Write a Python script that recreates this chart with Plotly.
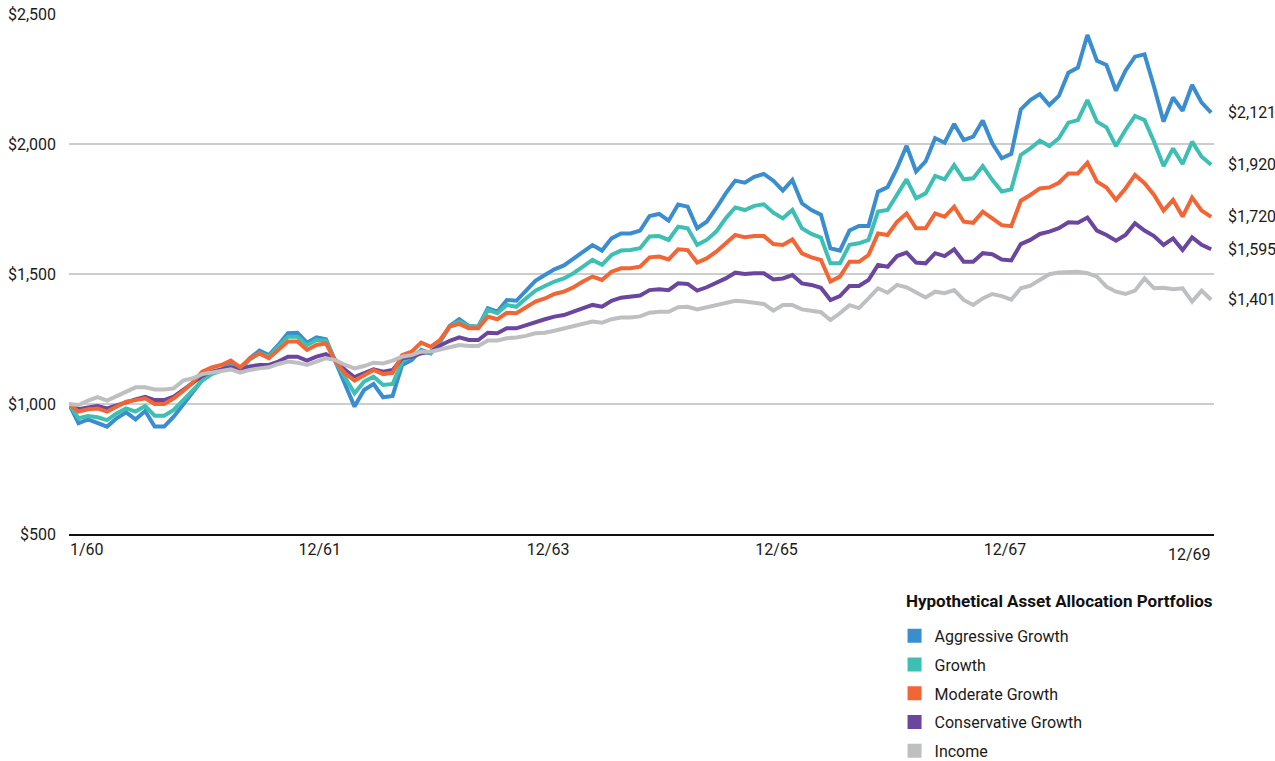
import plotly.graph_objects as go

# ---------------- data ----------------
months = list(range(121))  # month index (start point + 120 months)

tick_idx = [0, 24, 48, 72, 96, 120]
tick_text = ["1/60", "12/61", "12/63", "12/65", "12/67", "12/69"]

series_names = ["Aggressive Growth", "Growth", "Moderate Growth", "Conservative Growth", "Income"]
legend_title = "Hypothetical Asset Allocation Portfolios"

aggressive = [
    1000, 926, 941, 928, 913, 945, 968, 941, 973, 913,
    913, 951, 996, 1047, 1092, 1118, 1131, 1156, 1131, 1176,
    1205, 1188, 1227, 1272, 1274, 1236, 1256, 1249, 1163, 1079,
    990, 1054, 1077, 1026, 1031, 1150, 1169, 1208, 1195, 1240,
    1300, 1326, 1300, 1297, 1368, 1355, 1400, 1397, 1438, 1474,
    1496, 1518, 1533, 1560, 1586, 1611, 1590, 1637, 1656, 1656,
    1667, 1723, 1731, 1705, 1767, 1759, 1676, 1701, 1753, 1810,
    1859, 1851, 1874, 1885, 1859, 1821, 1862, 1772, 1746, 1728,
    1599, 1590, 1667, 1685, 1685, 1817, 1834, 1907, 1993, 1894,
    1933, 2022, 2005, 2077, 2015, 2028, 2090, 2003, 1945, 1962,
    2133, 2169, 2192, 2150, 2185, 2274, 2294, 2419, 2320, 2304,
    2205, 2282, 2336, 2345, 2220, 2086, 2179, 2128, 2227, 2159,
    2121,
]
growth = [
    1000, 945, 954, 949, 938, 964, 983, 971, 992, 955,
    955, 977, 1015, 1054, 1090, 1115, 1128, 1146, 1131, 1172,
    1195, 1182, 1220, 1259, 1259, 1227, 1246, 1244, 1163, 1099,
    1041, 1086, 1105, 1073, 1077, 1163, 1182, 1205, 1195, 1240,
    1298, 1317, 1300, 1297, 1362, 1349, 1381, 1374, 1406, 1436,
    1454, 1471, 1483, 1503, 1528, 1554, 1535, 1573, 1590, 1592,
    1599, 1644, 1646, 1631, 1682, 1676, 1612, 1631, 1663, 1714,
    1756, 1746, 1762, 1768, 1736, 1714, 1746, 1676, 1654, 1640,
    1541, 1541, 1612, 1618, 1631, 1740, 1746, 1804, 1864, 1791,
    1810, 1877, 1864, 1919, 1864, 1868, 1915, 1862, 1817, 1826,
    1958, 1983, 2013, 1992, 2022, 2082, 2092, 2169, 2086, 2064,
    1992, 2054, 2108, 2092, 2009, 1915, 1983, 1923, 2009, 1951,
    1920,
]
moderate = [
    1000, 971, 980, 983, 971, 990, 1009, 1015, 1022, 1000,
    1000, 1022, 1050, 1083, 1124, 1141, 1150, 1167, 1141, 1175,
    1194, 1176, 1210, 1240, 1240, 1208, 1227, 1233, 1163, 1118,
    1090, 1112, 1131, 1115, 1120, 1188, 1201, 1236, 1220, 1247,
    1298, 1308, 1291, 1291, 1336, 1326, 1351, 1349, 1372, 1394,
    1406, 1423, 1432, 1449, 1471, 1490, 1477, 1509, 1522, 1522,
    1528, 1564, 1567, 1556, 1595, 1592, 1544, 1560, 1586, 1618,
    1650, 1641, 1646, 1646, 1615, 1612, 1633, 1579, 1564, 1554,
    1471, 1490, 1547, 1547, 1573, 1656, 1650, 1701, 1733, 1676,
    1676, 1733, 1720, 1759, 1701, 1697, 1740, 1714, 1688, 1684,
    1782, 1804, 1829, 1833, 1851, 1887, 1887, 1928, 1855, 1833,
    1785, 1829, 1881, 1849, 1804, 1744, 1785, 1721, 1794, 1744,
    1720,
]
conservative = [
    1000, 980, 987, 992, 983, 996, 1009, 1018, 1028, 1015,
    1015, 1028, 1054, 1079, 1108, 1124, 1131, 1141, 1133, 1144,
    1150, 1150, 1163, 1182, 1182, 1167, 1182, 1192, 1169, 1131,
    1103, 1118, 1133, 1124, 1131, 1176, 1182, 1195, 1201, 1225,
    1243, 1256, 1246, 1246, 1274, 1272, 1291, 1291, 1304, 1317,
    1326, 1336, 1342, 1355, 1368, 1381, 1374, 1397, 1409, 1413,
    1417, 1438, 1441, 1438, 1464, 1462, 1436, 1449, 1464, 1483,
    1505, 1500, 1503, 1503, 1479, 1483, 1496, 1464, 1458, 1447,
    1400, 1415, 1454, 1454, 1477, 1535, 1528, 1569, 1582, 1544,
    1541, 1580, 1569, 1595, 1547, 1547, 1580, 1576, 1556, 1552,
    1615, 1631, 1654, 1663, 1676, 1699, 1697, 1717, 1667, 1650,
    1628, 1650, 1695, 1667, 1646, 1612, 1637, 1592, 1641, 1612,
    1595,
]
income = [
    1000, 996, 1013, 1026, 1013, 1031, 1047, 1064, 1064, 1056,
    1056, 1060, 1090, 1099, 1115, 1121, 1127, 1133, 1121, 1131,
    1137, 1141, 1154, 1163, 1159, 1150, 1163, 1176, 1169, 1150,
    1137, 1146, 1159, 1156, 1167, 1182, 1188, 1201, 1201, 1208,
    1218, 1227, 1223, 1223, 1244, 1244, 1253, 1256, 1262, 1272,
    1274, 1282, 1291, 1297, 1308, 1317, 1313, 1326, 1333, 1333,
    1337, 1351, 1355, 1355, 1372, 1374, 1364, 1372, 1379, 1387,
    1397, 1394, 1391, 1385, 1359, 1381, 1381, 1364, 1359, 1353,
    1323, 1349, 1380, 1369, 1406, 1445, 1428, 1458, 1449, 1428,
    1410, 1432, 1426, 1438, 1400, 1381, 1406, 1423, 1415, 1401,
    1445, 1455, 1477, 1499, 1506, 1509, 1509, 1503, 1490, 1451,
    1432, 1423, 1436, 1483, 1445, 1447, 1441, 1445, 1394, 1436,
    1401,
]

y_ticks = [500, 1000, 1500, 2000, 2500]

# ---------------- style ----------------
colors = ["#3A8DCF", "#3DBFB4", "#F26535", "#6B469E", "#BEBFC1"]
FONT = "Roboto, 'Liberation Sans', sans-serif"
TXT = "#1a1a1a"

all_series = [aggressive, growth, moderate, conservative, income]
draw_order = [0, 1, 3, 2, 4]

fig = go.Figure()

for k in draw_order:
    fig.add_trace(go.Scatter(
        x=months, y=all_series[k], mode="lines",
        line=dict(color=colors[k], width=4),
        showlegend=False, hoverinfo="skip",
    ))

# legend entries as squares
for k, name in enumerate(series_names):
    fig.add_trace(go.Scatter(
        x=[None], y=[None], mode="markers", name=name,
        marker=dict(symbol="square", size=14, color=colors[k]),
        legendgroup=name, showlegend=True,
    ))

# end labels
for k in range(5):
    fig.add_annotation(
        x=months[-1], y=all_series[k][-1], xref="x", yref="y",
        text="${:,}".format(all_series[k][-1]), showarrow=False,
        xanchor="left", yanchor="middle", xshift=15,
        font=dict(family=FONT, size=16, color=TXT),
    )

# last x tick label (right aligned at end)
fig.add_annotation(
    x=tick_idx[-1], y=0, xref="x", yref="paper",
    text=tick_text[-1], showarrow=False,
    xanchor="right", yanchor="top", yshift=-9, xshift=2,
    font=dict(family=FONT, size=16, color=TXT),
)

# legend title
fig.add_annotation(
    x=0.729, y=-0.129, xref="paper", yref="paper",
    text="<b>" + legend_title + "</b>", showarrow=False,
    xanchor="left", yanchor="middle",
    font=dict(family=FONT, size=17, color="#111"),
)

fig.update_layout(
    width=1275, height=761, autosize=False,
    margin=dict(l=69, r=61, t=14, b=227, autoexpand=False),
    paper_bgcolor="white", plot_bgcolor="white",
    font=dict(family=FONT, size=16, color=TXT),
    xaxis=dict(
        range=[0, 120.3], showgrid=False, zeroline=False,
        showline=True, linecolor="#111", linewidth=2,
        tickmode="array", tickvals=tick_idx[:-1], ticktext=tick_text[:-1],
        ticks="", ticklabelposition="outside right",
        tickfont=dict(family=FONT, size=16, color=TXT),
        fixedrange=True,
    ),
    yaxis=dict(
        range=[500, 2500], showgrid=True, gridcolor="#CDCDCD", gridwidth=1.5,
        zeroline=False, showline=False,
        tickmode="array", tickvals=y_ticks,
        ticktext=["${:,}".format(v) for v in y_ticks],
        ticks="", ticklabelstandoff=12,
        tickfont=dict(family=FONT, size=16, color=TXT),
        fixedrange=True,
    ),
    legend=dict(
        x=0.721, y=-0.163, xanchor="left", yanchor="top",
        font=dict(family=FONT, size=16, color=TXT),
        tracegroupgap=5, itemsizing="trace", maxheight=400,
        borderwidth=0, bgcolor="rgba(0,0,0,0)",
    ),
    showlegend=True,
)

fig.write_html("out.html")
